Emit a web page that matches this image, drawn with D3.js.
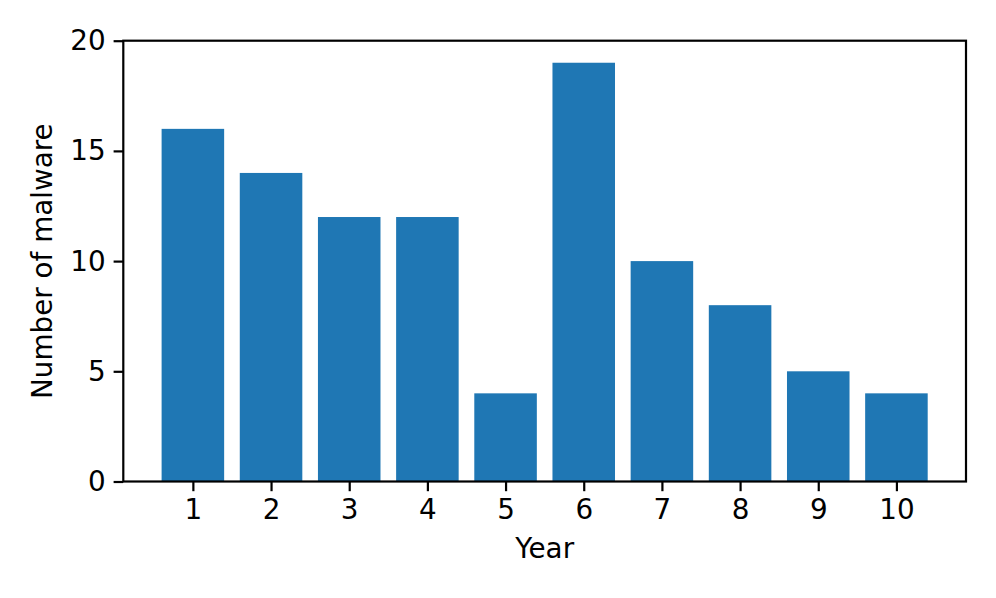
<!DOCTYPE html>
<html>
<head>
<meta charset="utf-8">
<script src="https://d3js.org/d3.v7.min.js"></script>
<style>
  body { margin: 0; background: #fff; }
  text { font-family: "DejaVu Sans", sans-serif; }
</style>
</head>
<body>
<script>
// data
var years = [1, 2, 3, 4, 5, 6, 7, 8, 9, 10];
var counts = [16, 14, 12, 12, 4, 19, 10, 8, 5, 4];
var yTicks = [0, 5, 10, 15, 20];

var width = 996;
var height = 598;
var margin = {top: 40.7, left: 123.3, right: 996 - 966, bottom: 598 - 481.5};
var fs = "27.8px";

var svg = d3.select("body").append("svg")
	.attr("width", width)
	.attr("height", height);

// matplotlib style limits: bars of width 0.8 plus 5% margin
var x = d3.scaleLinear()
	.domain([0.11, 10.89])
	.range([margin.left, width - margin.right]);
var y = d3.scaleLinear()
	.domain([0, 20])
	.range([height - margin.bottom, margin.top]);

var barW = 0.8;

svg.append("g").selectAll("rect")
	.data(years)
	.enter().append("rect")
	.attr("x", (d) => x(d - barW / 2))
	.attr("width", (d) => x(d + barW / 2) - x(d - barW / 2))
	.attr("y", (d, i) => y(counts[i]))
	.attr("height", (d, i) => y(0) - y(counts[i]))
	.attr("fill", "#1f77b4");

var xAxis = d3.axisBottom(x).tickValues(years).tickSize(9.7).tickPadding(8).tickFormat(d3.format("d"));
var yAxis = d3.axisLeft(y).tickValues(yTicks).tickSize(9.7).tickPadding(8);

var gx = svg.append("g")
	.attr("transform", "translate(0," + y(0) + ")")
	.call(xAxis);
var gy = svg.append("g")
	.attr("transform", "translate(" + x.range()[0] + ",0)")
	.call(yAxis);

[gx, gy].forEach(function(g) {
	g.select(".domain").remove();
	g.selectAll("line").attr("stroke", "#000").attr("stroke-width", 2.2);
	g.selectAll("text").attr("font-size", fs).attr("fill", "#000")
		.style("font-family", "DejaVu Sans, sans-serif");
});

// frame
svg.append("rect")
	.attr("x", x.range()[0])
	.attr("y", y.range()[1])
	.attr("width", x.range()[1] - x.range()[0])
	.attr("height", y.range()[0] - y.range()[1])
	.attr("fill", "none")
	.attr("stroke", "#000")
	.attr("stroke-width", 2.2);

svg.append("text")
	.attr("x", (x.range()[0] + x.range()[1]) / 2)
	.attr("y", 558)
	.attr("text-anchor", "middle")
	.attr("font-size", fs)
	.text("Year");

svg.append("text")
	.attr("transform", "translate(52," + ((y.range()[0] + y.range()[1]) / 2) + ") rotate(-90)")
	.attr("text-anchor", "middle")
	.attr("font-size", fs)
	.text("Number of malware");
</script>
</body>
</html>
